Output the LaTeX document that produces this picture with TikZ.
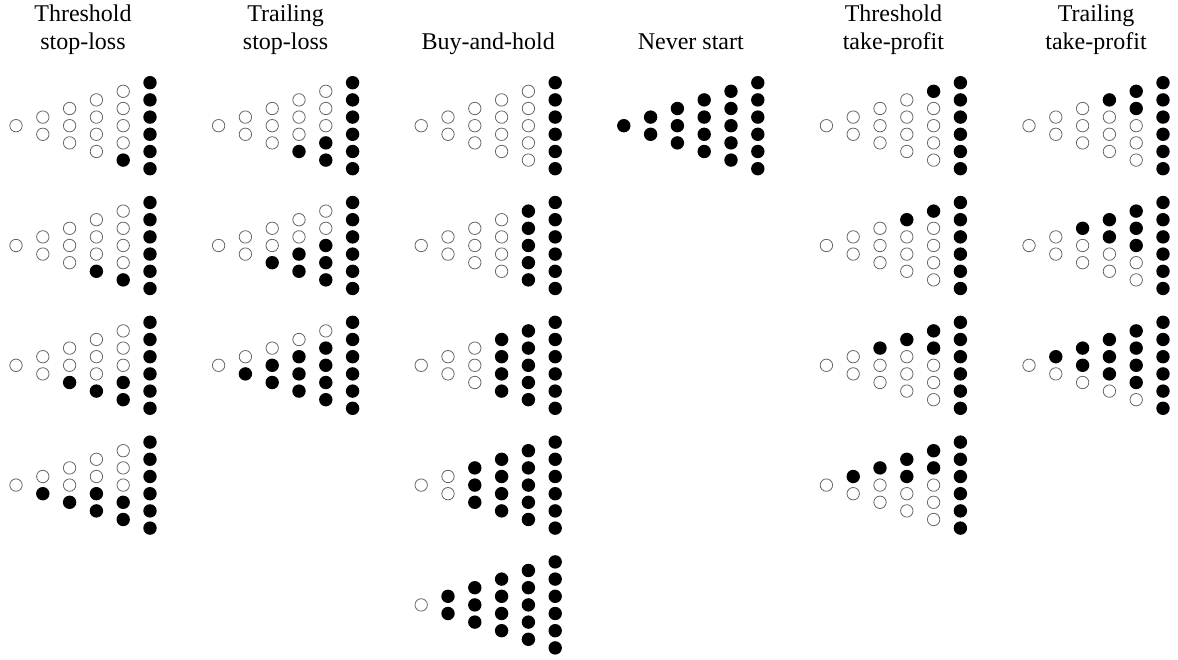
\documentclass[tikz,border=0pt]{standalone}
\usepackage{fontspec}
\setmainfont{Liberation Serif}
\usepackage{tikz}

% one recombining lattice: x, y of the root, name, rule for a filled dot
\newcommand{\lattice}[4]{%
  \foreach \k in {0,...,5}{
    \foreach \j in {0,...,\k}{
      \pgfmathtruncatemacro{\hit}{(#4) ? 1 : 0}
      \ifnum\hit=1 \def\look{dot}\else \def\look{hole}\fi
      \node[\look] (#3-\k-\j) at ({#1+26.8*\k},{#2+17.2*\j-8.6*\k}) {};
    }
  }%
}

\begin{document}
\begin{tikzpicture}[
      x=1pt, y=-1pt,
      title/.style={font=\fontsize{24}{28}\selectfont, align=center, anchor=base, inner sep=0pt},
      dot/.style={circle, fill=black, inner sep=0pt, minimum size=13.4pt},
      hole/.style={circle, draw=black!60, line width=0.8pt, inner sep=0pt, minimum size=12.4pt}]
    \useasboundingbox (0,0) rectangle (1178,660);
    \node[title] (tslTitle) at (83,49.5) {Threshold\\stop-loss};
    \node[title] (trslTitle) at (285.6,49.5) {Trailing\\stop-loss};
    \node[title] (bahTitle) at (488.2,49.5) {Buy-and-hold};
    \node[title] (nsTitle) at (690.8,49.5) {Never start};
    \node[title] (ttpTitle) at (893.4,49.5) {Threshold\\take-profit};
    \node[title] (trtpTitle) at (1096,49.5) {Trailing\\take-profit};
    % threshold stop-loss
    \lattice{16}{125.7}{tsl1}{\k==5 || \k-2*\j<=-4}
    \lattice{16}{245.5}{tsl2}{\k==5 || \k-2*\j<=-3}
    \lattice{16}{365.3}{tsl3}{\k==5 || \k-2*\j<=-2}
    \lattice{16}{485.1}{tsl4}{\k==5 || \k-2*\j<=-1}
    % trailing stop-loss
    \lattice{218.6}{125.7}{trsl1}{\k==5 || \j>=3}
    \lattice{218.6}{245.5}{trsl2}{\k==5 || \j>=2}
    \lattice{218.6}{365.3}{trsl3}{\k==5 || \j>=1}
    % buy-and-hold
    \lattice{421.2}{125.7}{bah1}{\k>=5}
    \lattice{421.2}{245.5}{bah2}{\k>=4}
    \lattice{421.2}{365.3}{bah3}{\k>=3}
    \lattice{421.2}{485.1}{bah4}{\k>=2}
    \lattice{421.2}{604.9}{bah5}{\k>=1}
    % never start
    \lattice{623.8}{125.7}{ns1}{1}
    % threshold take-profit
    \lattice{826.4}{125.7}{ttp1}{\k==5 || \k-2*\j>=4}
    \lattice{826.4}{245.5}{ttp2}{\k==5 || \k-2*\j>=3}
    \lattice{826.4}{365.3}{ttp3}{\k==5 || \k-2*\j>=2}
    \lattice{826.4}{485.1}{ttp4}{\k==5 || \k-2*\j>=1}
    % trailing take-profit
    \lattice{1029}{125.7}{trtp1}{\k==5 || \k-\j>=3}
    \lattice{1029}{245.5}{trtp2}{\k==5 || \k-\j>=2}
    \lattice{1029}{365.3}{trtp3}{\k==5 || \k-\j>=1}
  \end{tikzpicture}
\end{document}
